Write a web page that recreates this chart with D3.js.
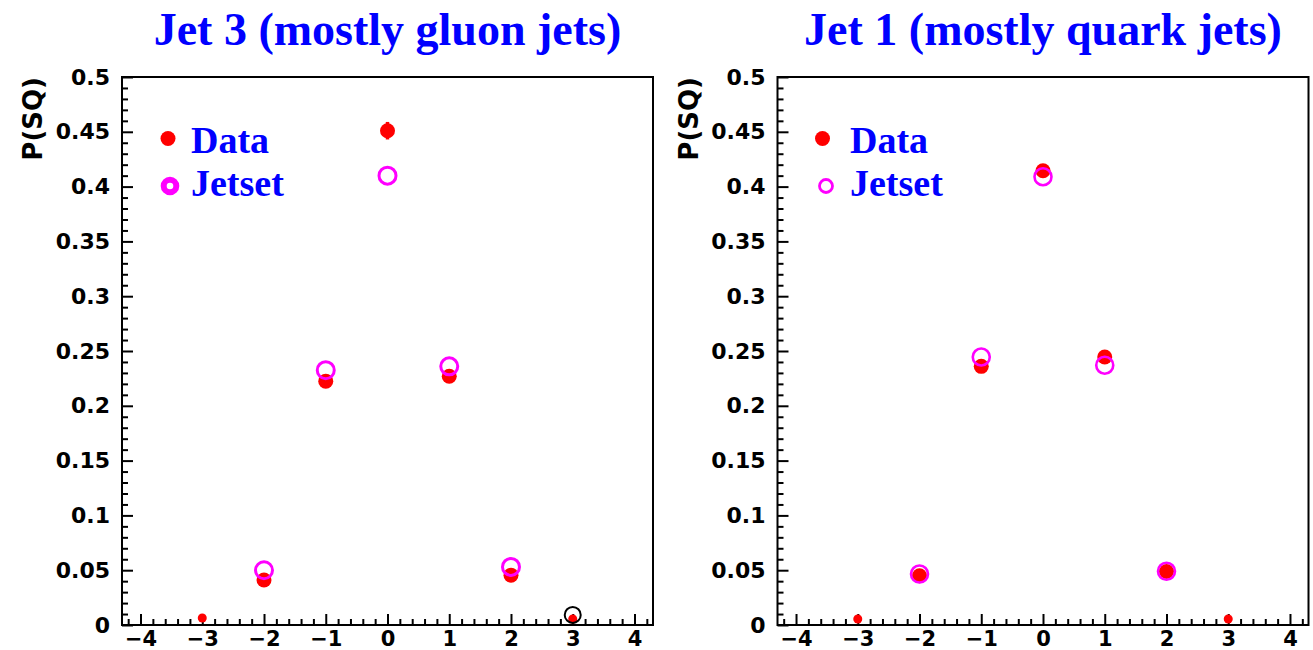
<!DOCTYPE html>
<html>
<head>
<meta charset="utf-8">
<script src="https://cdn.jsdelivr.net/npm/d3@7"></script>
<style>
  html, body { margin: 0; padding: 0; background: #fff; }
  svg { display: block; }
</style>
</head>
<body>
<svg id="chart" width="1313" height="650"></svg>
<script>
// ---------------- data ----------------
const xCenters = [-3, -2, -1, 0, 1, 2, 3];

const jet3Title = "Jet 3 (mostly gluon jets)";
const jet3Data = [0.0064, 0.041, 0.2225, 0.451, 0.227, 0.0455, 0.0055];
const jet3DataErr = [0.001, 0.003, 0.003, 0.008, 0.003, 0.003, 0.001];
const jet3Jetset = [null, 0.050, 0.2325, 0.410, 0.236, 0.053, null];
const jet3Other = [null, null, null, null, null, null, 0.0092];

const jet1Title = "Jet 1 (mostly quark jets)";
const jet1Data = [0.0055, 0.045, 0.236, 0.4145, 0.2445, 0.0488, 0.0055];
const jet1DataErr = [0.001, 0.002, 0.003, 0.004, 0.003, 0.002, 0.001];
const jet1Jetset = [null, 0.0465, 0.2445, 0.409, 0.237, 0.049, null];

const xTickValues = [-4, -3, -2, -1, 0, 1, 2, 3, 4];
const xTickLabels = ["\u22124", "\u22123", "\u22122", "\u22121", "0", "1", "2", "3", "4"];
const yTickValues = [0, 0.05, 0.1, 0.15, 0.2, 0.25, 0.3, 0.35, 0.4, 0.45, 0.5];
const yTickLabels = ["0", "0.05", "0.1", "0.15", "0.2", "0.25", "0.3", "0.35", "0.4", "0.45", "0.5"];
const legendLabels = ["Data", "Jetset"];
const yAxisTitle = "P(SQ)";

// ---------------- drawing ----------------
const svg = d3.select("#chart");
const RED = "#ff0000", MAG = "#ff00ff", BLUE = "#0000ff";

function drawPanel(cfg) {
  const g = svg.append("g");
  const x = d3.scaleLinear().domain([-4.3, 4.3]).range([cfg.left, cfg.right]);
  const y = d3.scaleLinear().domain([0, 0.5]).range([cfg.bottom, cfg.top]);

  // minor ticks
  const xMinor = d3.range(-42, 43, 2).map(v => v / 10).filter(v => Math.abs(v * 10 % 10) > 1e-6);
  const yMinor = d3.range(0, 51).map(v => v / 100).filter((v, i) => i % 5 !== 0);

  g.append("g").attr("transform", `translate(0,${cfg.bottom})`)
    .call(d3.axisBottom(x).tickValues(xMinor).tickSize(-6).tickFormat(""))
    .call(a => a.select(".domain").remove())
    .selectAll("line").attr("stroke", "#000").attr("stroke-width", 2);
  g.append("g").attr("transform", `translate(${cfg.left},0)`)
    .call(d3.axisLeft(y).tickValues(yMinor).tickSize(-6).tickFormat(""))
    .call(a => a.select(".domain").remove())
    .selectAll("line").attr("stroke", "#000").attr("stroke-width", 2);

  // major ticks
  const xa = g.append("g").attr("transform", `translate(0,${cfg.bottom})`)
    .call(d3.axisBottom(x).tickValues(xTickValues).tickSize(-11).tickPadding(6)
      .tickFormat((d, i) => xTickLabels[i]));
  xa.select(".domain").remove();
  xa.selectAll("line").attr("stroke", "#000").attr("stroke-width", 2);
  xa.selectAll("text").attr("font-family", "DejaVu Sans").attr("font-weight", "bold")
    .attr("font-size", 21).attr("fill", "#000");

  const ya = g.append("g").attr("transform", `translate(${cfg.left},0)`)
    .call(d3.axisLeft(y).tickValues(yTickValues).tickSize(-11).tickPadding(12)
      .tickFormat((d, i) => yTickLabels[i]));
  ya.select(".domain").remove();
  ya.selectAll("line").attr("stroke", "#000").attr("stroke-width", 2);
  ya.selectAll("text").attr("font-family", "DejaVu Sans").attr("font-weight", "bold")
    .attr("font-size", 22).attr("fill", "#000");

  // frame
  g.append("rect").attr("x", cfg.left).attr("y", cfg.top)
    .attr("width", cfg.right - cfg.left).attr("height", cfg.bottom - cfg.top)
    .attr("fill", "none").attr("stroke", "#000").attr("stroke-width", 2);

  // y axis title
  g.append("text").attr("transform", `translate(${cfg.left - 80},${cfg.top}) rotate(-90)`)
    .attr("text-anchor", "end").attr("font-family", "DejaVu Sans").attr("font-weight", "bold")
    .attr("font-size", 26).attr("fill", "#000").text(yAxisTitle);

  // title
  g.append("text").attr("x", (cfg.left + cfg.right) / 2).attr("y", 45)
    .attr("text-anchor", "middle").attr("font-family", "Liberation Serif").attr("font-weight", "bold")
    .attr("font-size", 46).attr("fill", BLUE).text(cfg.title);

  const pts = xCenters.map((xc, i) => ({
    x: xc, d: cfg.data[i], e: cfg.err[i], j: cfg.jetset[i],
    o: cfg.other ? cfg.other[i] : null, small: Math.abs(xc) === 3
  }));

  // data error bars
  g.selectAll(".err").data(pts.filter(p => p.d != null)).join("line")
    .attr("x1", p => x(p.x)).attr("x2", p => x(p.x))
    .attr("y1", p => y(p.d - p.e)).attr("y2", p => y(p.d + p.e))
    .attr("stroke", RED).attr("stroke-width", 3.5);
  // data markers
  g.selectAll(".dat").data(pts.filter(p => p.d != null)).join("circle")
    .attr("cx", p => x(p.x)).attr("cy", p => y(p.d))
    .attr("r", p => p.small ? 4.5 : 7.5).attr("fill", RED);
  // jetset rings
  g.selectAll(".jet").data(pts.filter(p => p.j != null)).join("circle")
    .attr("cx", p => x(p.x)).attr("cy", p => y(p.j))
    .attr("r", cfg.ringR).attr("fill", "none").attr("stroke", MAG).attr("stroke-width", cfg.ringW);
  // other ring
  g.selectAll(".oth").data(pts.filter(p => p.o != null)).join("circle")
    .attr("cx", p => x(p.x)).attr("cy", p => y(p.o))
    .attr("r", 8).attr("fill", "none").attr("stroke", "#000").attr("stroke-width", 2);

  // legend
  const L = cfg.legend;
  g.append("circle").attr("cx", L.mx).attr("cy", 138.5).attr("r", 7.5).attr("fill", RED);
  g.append("circle").attr("cx", L.mx2).attr("cy", 186).attr("r", L.ringR)
    .attr("fill", "none").attr("stroke", MAG).attr("stroke-width", L.ringW);
  g.selectAll(".leg").data(legendLabels).join("text")
    .attr("x", L.tx).attr("y", (d, i) => i === 0 ? 153 : 196)
    .attr("font-family", "Liberation Serif").attr("font-weight", "bold")
    .attr("font-size", 38).attr("fill", BLUE).text(d => d);
}

drawPanel({
  left: 122, right: 653, top: 77, bottom: 625, title: jet3Title,
  data: jet3Data, err: jet3DataErr, jetset: jet3Jetset, other: jet3Other,
  ringR: 8.5, ringW: 3,
  legend: { mx: 168, mx2: 170, ringR: 6.3, ringW: 6, tx: 191 }
});
drawPanel({
  left: 777.5, right: 1308.5, top: 77, bottom: 625, title: jet1Title,
  data: jet1Data, err: jet1DataErr, jetset: jet1Jetset, other: null,
  ringR: 8.5, ringW: 2.6,
  legend: { mx: 822.5, mx2: 826, ringR: 6.5, ringW: 2.8, tx: 850 }
});
</script>
</body>
</html>
